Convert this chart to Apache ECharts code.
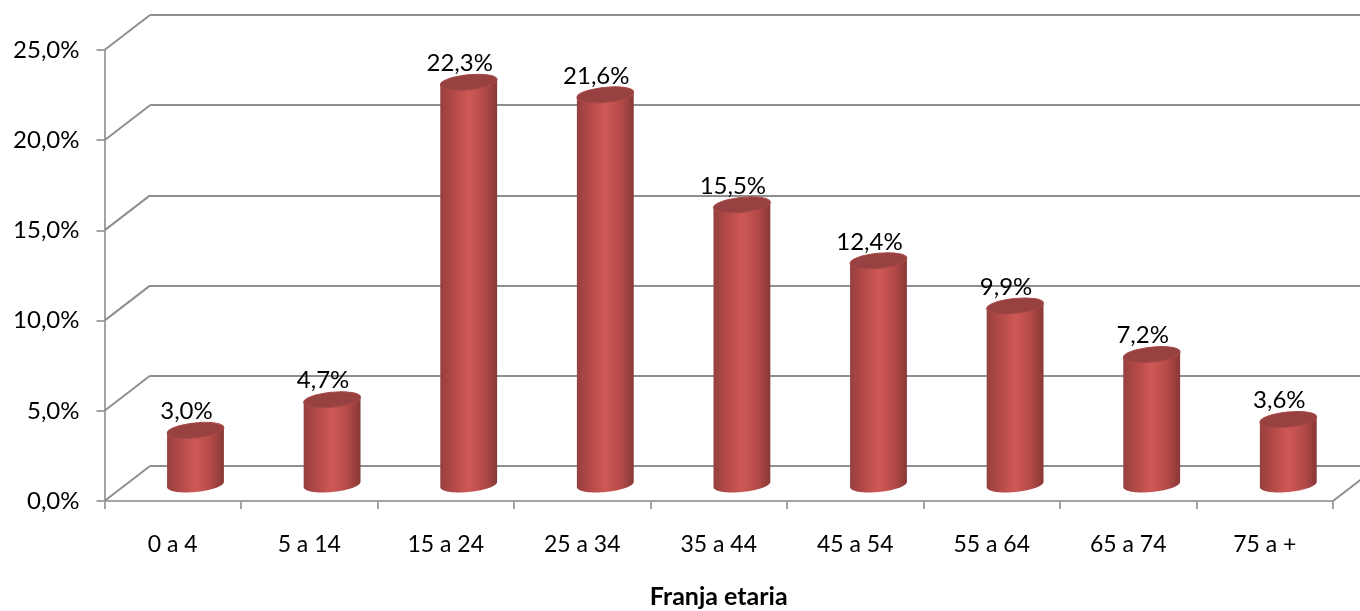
<!DOCTYPE html>
<html>
<head>
<meta charset="utf-8">
<style>html,body{margin:0;padding:0;background:#fff}#c{width:1360px;height:611px}</style>
<script src="https://cdn.jsdelivr.net/npm/echarts@6/dist/echarts.min.js"></script>
</head>
<body>
<div id="c"></div>
<script>
var categories = ['0 a 4','5 a 14','15 a 24','25 a 34','35 a 44','45 a 54','55 a 64','65 a 74','75 a +'];
var values = [3.0,4.7,22.3,21.6,15.5,12.4,9.9,7.2,3.6];
var ticks = [0,5,10,15,20,25];

var FONT = 'Lato, Carlito, "Open Sans", sans-serif';
var AXIS = '#a3a3a3', GRID = '#8f8f8f', TEXT = '#000';
var DEPTH_X = 45.5, DEPTH_Y = 35;
var fmt = function (v) { return v.toFixed(1).replace('.', ',') + '%'; };

function renderDiagonal(params, api) {
  var rect = params.coordSys;
  var y = api.coord([0, api.value(1)])[1];
  var x = rect.x + api.value(0) * rect.width;
  return {
    type: 'line', silent: true,
    shape: { x1: x, y1: y, x2: x + DEPTH_X, y2: y - DEPTH_Y },
    style: { stroke: GRID, lineWidth: 2 }
  };
}

function renderCylinder(params, api) {
  var c = api.coord([api.value(0), api.value(1)]);
  var base = api.coord([api.value(0), 0]);
  var band = api.size([1, 0])[0];
  var a = band * 0.209, b = 7.5, t = 0.1;
  var cs = Math.cos(t), sn = Math.sin(t);
  var pt = function (cx, cy, f) {
    return [cx + a * Math.cos(f) * cs + b * Math.sin(f) * sn,
            cy - a * Math.cos(f) * sn + b * Math.sin(f) * cs];
  };
  var f0 = Math.atan2(b * sn, a * cs);
  var pts = [];
  for (var i = 0; i <= 40; i++) pts.push(pt(c[0], base[1], f0 + Math.PI * i / 40));
  pts.push(pt(c[0], c[1], f0 + Math.PI));
  pts.push(pt(c[0], c[1], f0));
  return {
    type: 'group', children: [
      { type: 'polygon', shape: { points: pts }, style: {
          fill: { type: 'linear', x: 0, y: 0, x2: 1, y2: 0, colorStops: [
            { offset: 0, color: '#964040' }, { offset: 0.18, color: '#ad4745' },
            { offset: 0.5, color: '#cf5856' }, { offset: 0.78, color: '#b34a48' },
            { offset: 1, color: '#873836' } ] } } },
      { type: 'ellipse', shape: { cx: 0, cy: 0, rx: a, ry: b },
        x: c[0], y: c[1], rotation: t,
        style: { fill: '#974140', stroke: '#a84a48', lineWidth: 1 } },
      { type: 'text', x: c[0] - band * 0.066, y: c[1] - 19,
        style: { text: fmt(api.value(1)), font: '24px ' + FONT, fill: TEXT, align: 'center', verticalAlign: 'middle' } }
    ]
  };
}

var chart = echarts.init(document.getElementById('c'), null, { renderer: 'canvas' });
chart.setOption({
  animation: false,
  backgroundColor: '#fff',
  grid: [
    { left: 104.5, top: 50, width: 1228.5, height: 451, outerBoundsMode: 'none' },
    { left: 150, top: 15, width: 1229, height: 451, outerBoundsMode: 'none' },
    { left: 127.2, top: 33.5, width: 1229.4, height: 451, outerBoundsMode: 'none' }
  ],
  xAxis: [
    { gridIndex: 0, type: 'category', data: categories,
      axisLine: { lineStyle: { color: AXIS, width: 2 } },
      axisTick: { show: true, length: 8, lineStyle: { color: AXIS, width: 2 } },
      axisLabel: { color: TEXT, fontFamily: FONT, fontSize: 23, margin: 32 },
      name: 'Franja etaria', nameLocation: 'middle', nameGap: 83,
      nameTextStyle: { fontFamily: FONT, fontSize: 25, fontWeight: 'bold', color: TEXT } },
    { gridIndex: 1, type: 'category', data: categories, show: false },
    { gridIndex: 2, type: 'category', data: categories, show: false }
  ],
  yAxis: [
    { gridIndex: 0, type: 'value', min: 0, max: 25, interval: 5,
      axisLine: { show: true, lineStyle: { color: AXIS, width: 2 } },
      axisTick: { show: true, length: 8, lineStyle: { color: AXIS, width: 2 } },
      splitLine: { show: false },
      axisLabel: { color: TEXT, fontFamily: FONT, fontSize: 24, margin: 25, padding: [4, 0, 0, 0], formatter: fmt } },
    { gridIndex: 1, type: 'value', min: 0, max: 25, interval: 5,
      axisLine: { show: false }, axisTick: { show: false }, axisLabel: { show: false },
      splitLine: { show: true, lineStyle: { color: GRID, width: 2 } } },
    { gridIndex: 2, type: 'value', min: 0, max: 25, interval: 5, show: false, splitLine: { show: false } }
  ],
  series: [
    { type: 'custom', xAxisIndex: 0, yAxisIndex: 0, silent: true, clip: false, z: 3,
      renderItem: renderDiagonal,
      data: ticks.map(function (v) { return [0, v]; }).concat([[1, 0]]) },
    { type: 'custom', name: 'Franja etaria', xAxisIndex: 2, yAxisIndex: 2, clip: false, z: 5,
      renderItem: renderCylinder,
      data: values.map(function (v, i) { return [i, v]; }) }
  ]
});
</script>
</body>
</html>
